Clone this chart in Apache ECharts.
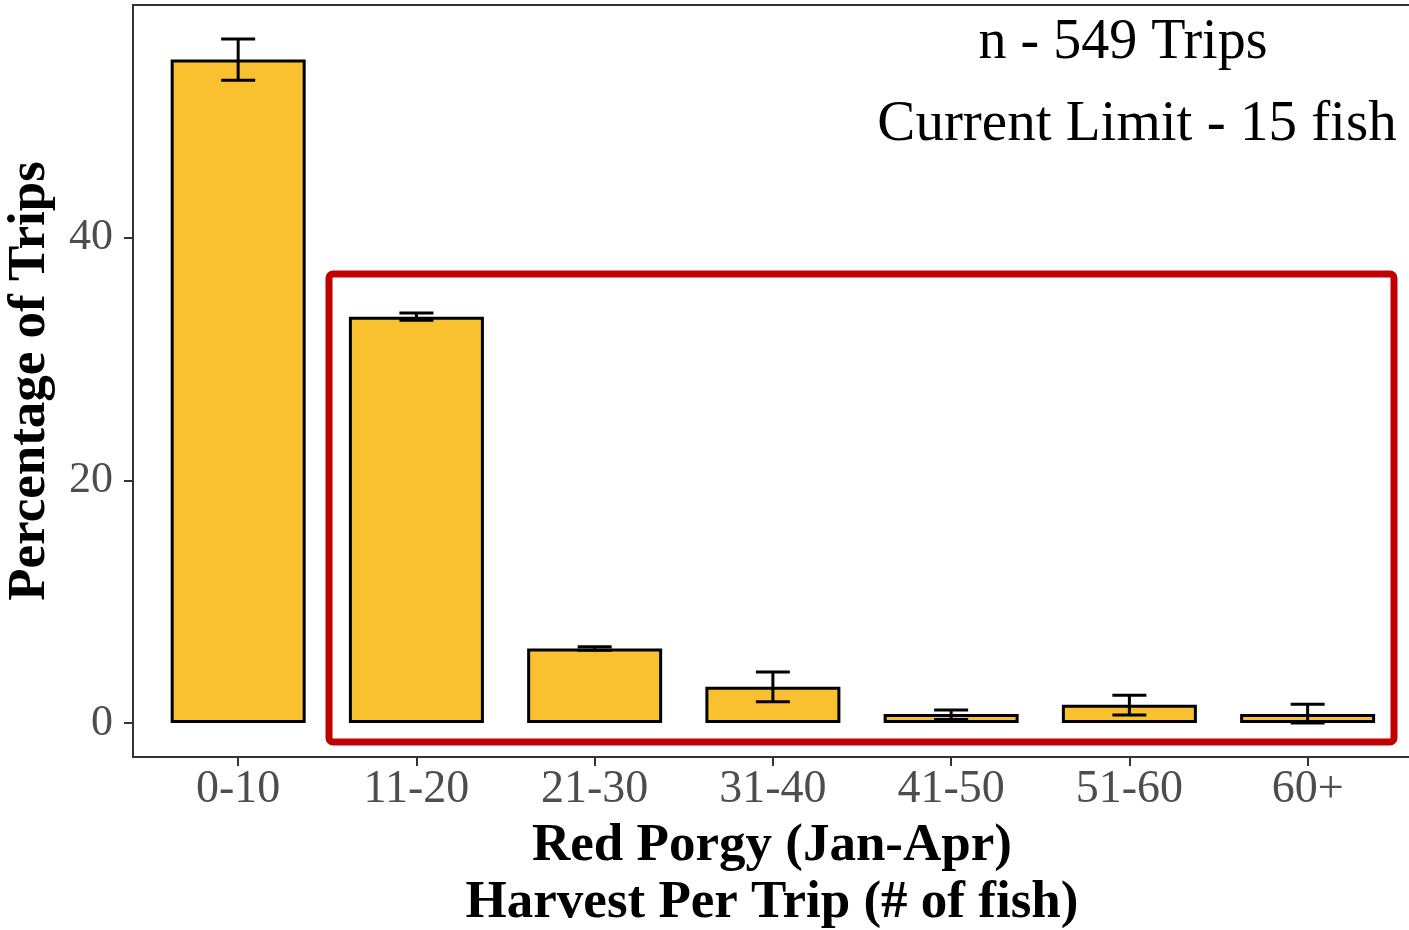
<!DOCTYPE html>
<html>
<head>
<meta charset="utf-8">
<script src="https://cdn.jsdelivr.net/npm/echarts@6/dist/echarts.min.js"></script>
<style>
  html, body { margin: 0; padding: 0; background: #fff; }
  #chart { width: 1409px; height: 930px; }
</style>
</head>
<body>
<div id="chart"></div>
<script>
    var categories = ['0-10', '11-20', '21-30', '31-40', '41-50', '51-60', '60+'];
    var pctTrips = [54.7, 33.5, 6.15, 3.0, 0.74, 1.5, 0.74];
    var errLow = [53.0, 33.2, 6.0, 1.75, 0.3, 0.66, 0.0];
    var errHigh = [56.4, 33.8, 6.3, 4.2, 1.07, 2.3, 1.54];
    var yTicks = [0, 20, 40];
    var notes = ['n - 549 Trips', 'Current Limit - 15 fish'];

    var serif = 'Liberation Serif';
    var idx = categories.map(function (c, i) { return i; });

    var barData = pctTrips.map(function (v, i) { return [i, v]; });
    var errData = errLow.map(function (lo, i) { return [i, lo, errHigh[i]]; });

    var myChart = echarts.init(document.getElementById('chart'));
    var option = {
        backgroundColor: '#fff',
        animation: false,
        grid: {
            left: 133,
            top: 5,
            right: -2,
            bottom: 173,
            outerBoundsMode: 'none',
            containLabel: false,
            show: true,
            borderColor: '#333',
            borderWidth: 2,
            backgroundColor: 'transparent'
        },
        xAxis: {
            type: 'value',
            min: -0.59,
            max: 6.58,
            splitLine: { show: false },
            axisLine: { show: false, onZero: false },
            axisTick: {
                show: true,
                customValues: idx,
                length: 9,
                lineStyle: { color: '#333', width: 2 }
            },
            axisLabel: {
                customValues: idx,
                formatter: function (v) { return categories[v]; },
                color: '#4d4d4d',
                fontFamily: serif,
                fontSize: 46,
                margin: 10
            },
            name: 'Red Porgy (Jan-Apr)\nHarvest Per Trip (# of fish)',
            nameLocation: 'middle',
            nameGap: 57,
            nameTextStyle: {
                color: '#000',
                fontFamily: serif,
                fontWeight: 'bold',
                fontSize: 53,
                lineHeight: 57
            }
        },
        yAxis: {
            type: 'value',
            min: -2.8,
            max: 59.2,
            splitLine: { show: false },
            axisLine: { show: false, onZero: false },
            axisTick: {
                show: true,
                customValues: yTicks,
                length: 9,
                lineStyle: { color: '#333', width: 2 }
            },
            axisLabel: {
                customValues: yTicks,
                color: '#4d4d4d',
                fontFamily: serif,
                fontSize: 44,
                margin: 20
            },
            name: 'Percentage of Trips',
            nameLocation: 'middle',
            nameGap: 76,
            nameTextStyle: {
                color: '#000',
                fontFamily: serif,
                fontWeight: 'bold',
                fontSize: 53
            }
        },
        series: [{
            type: 'bar',
            data: barData,
            barWidth: 135,
            itemStyle: {
                color: '#F9C02F',
                borderColor: '#000',
                borderWidth: 3
            }
        }, {
            type: 'custom',
            data: errData,
            z: 5,
            renderItem: function (params, api) {
                var x = api.value(0);
                var top = api.coord([x, api.value(2)]);
                var bot = api.coord([x, api.value(1)]);
                var hw = 17;
                var style = { stroke: '#000', lineWidth: 3, fill: null };
                return {
                    type: 'group',
                    children: [
                        { type: 'line', shape: { x1: top[0], y1: top[1], x2: bot[0], y2: bot[1] }, style: style },
                        { type: 'line', shape: { x1: top[0] - hw, y1: top[1], x2: top[0] + hw, y2: top[1] }, style: style },
                        { type: 'line', shape: { x1: bot[0] - hw, y1: bot[1], x2: bot[0] + hw, y2: bot[1] }, style: style }
                    ]
                };
            }
        }],
        graphic: [{
            type: 'text',
            x: 1123,
            y: 43,
            style: {
                text: notes[0],
                font: '56px "Liberation Serif"',
                fill: '#000',
                align: 'center',
                verticalAlign: 'middle'
            }
        }, {
            type: 'text',
            x: 1137,
            y: 125,
            style: {
                text: notes[1],
                font: '57px "Liberation Serif"',
                fill: '#000',
                align: 'center',
                verticalAlign: 'middle'
            }
        }, {
            type: 'rect',
            z: 10,
            shape: { x: 329, y: 274, width: 1065, height: 468, r: 4 },
            style: { fill: null, stroke: '#C00000', lineWidth: 7 }
        }]
    };
    myChart.setOption(option);
</script>
</body>
</html>
